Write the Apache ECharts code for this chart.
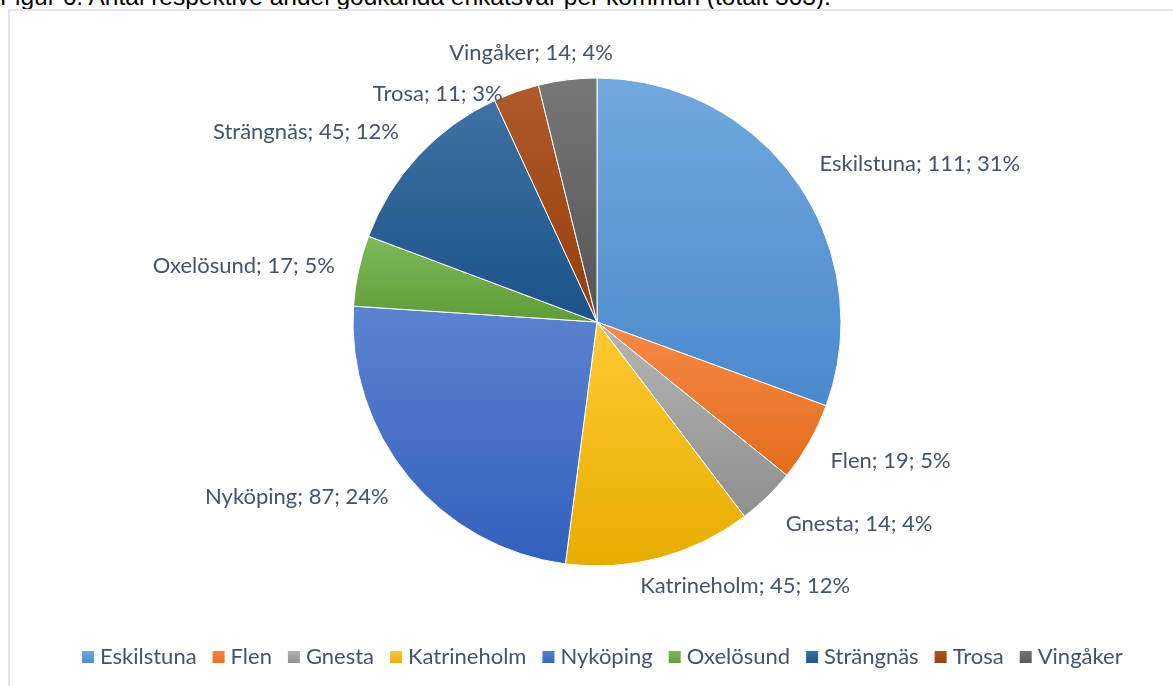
<!DOCTYPE html>
<html>
<head>
<meta charset="utf-8">
<script src="https://cdn.jsdelivr.net/npm/echarts@6/dist/echarts.min.js"></script>
<style>
  html, body { margin: 0; padding: 0; background: #fff; }
  body { width: 1173px; height: 686px; position: relative; overflow: hidden; }
  #caption {
    position: absolute; left: 0; top: -15px; white-space: nowrap;
    font-family: "Liberation Sans", Arial, sans-serif; font-size: 24.5px; line-height: 24px; color: #000;
  }
  #frame {
    position: absolute; left: 8px; top: 9px; width: 1200px; height: 700px;
    border: 2px solid #e1e4e9; box-sizing: border-box;
  }
  #main { position: absolute; left: 0; top: 0; width: 1173px; height: 686px; }
</style>
</head>
<body>
<div id="caption">Figur 6. Antal respektive andel godkända enkätsvar per kommun (totalt 363).</div>
<div id="frame"></div>
<div id="main"></div>
<script>
// kommuner och antal godkända enkätsvar
const kommuner = ['Eskilstuna', 'Flen', 'Gnesta', 'Katrineholm', 'Nyköping', 'Oxelösund', 'Strängnäs', 'Trosa', 'Vingåker'];
const antal = [111, 19, 14, 45, 87, 17, 45, 11, 14];

// ljus / mörk ton för gradienten i varje sektor
const ljus = ['#72a8de', '#f58a47', '#b5b5b5', '#ffca33', '#5b83d0', '#80ba5a', '#3f72a5', '#b0592a', '#787878'];
const mork = ['#4a89cb', '#e36c1b', '#8f8f8f', '#e6ad00', '#3360bd', '#5e9c36', '#1b5289', '#963f0a', '#545454'];

// små justeringar av etiketternas läge (som Excels placering)
const etikettDx = [2, 0, 0, -32, 0, -1, 0, 0, 56];
const etikettDy = [-10, 12, 17, 15, 11, -2, -14, 15, -13];

const total = antal.reduce((a, b) => a + b, 0);
const chart = echarts.init(document.getElementById('main'));

const grad = i => new echarts.graphic.LinearGradient(0, 0, 0, 1, [
  { offset: 0, color: ljus[i] },
  { offset: 1, color: mork[i] }
]);

const data = kommuner.map((k, i) => ({
  name: k,
  value: antal[i],
  itemStyle: { color: grad(i) }
}));

chart.setOption({
  animation: false,
  legend: {
    data: kommuner,
    top: 641,
    left: 75,
    icon: 'rect',
    itemWidth: 14,
    itemHeight: 14,
    itemGap: 14,
    textStyle: { fontFamily: 'Lato', fontSize: 22, color: '#44546a' }
  },
  series: [{
    type: 'pie',
    center: [597, 322],
    radius: 244,
    startAngle: 90,
    clockwise: true,
    avoidLabelOverlap: false,
    data: data,
    itemStyle: { borderColor: '#ffffff', borderWidth: 1 },
    label: {
      position: 'outside',
      fontFamily: 'Lato',
      fontSize: 22,
      color: '#44546a',
      formatter: p => p.name + '; ' + p.value + '; ' + Math.round(p.value / total * 100) + '%'
    },
    labelLine: { show: false, length: 14, length2: 4 },
    labelLayout: p => ({
      hideOverlap: false,
      dx: etikettDx[p.dataIndex],
      dy: etikettDy[p.dataIndex]
    })
  }]
});
</script>
</body>
</html>
